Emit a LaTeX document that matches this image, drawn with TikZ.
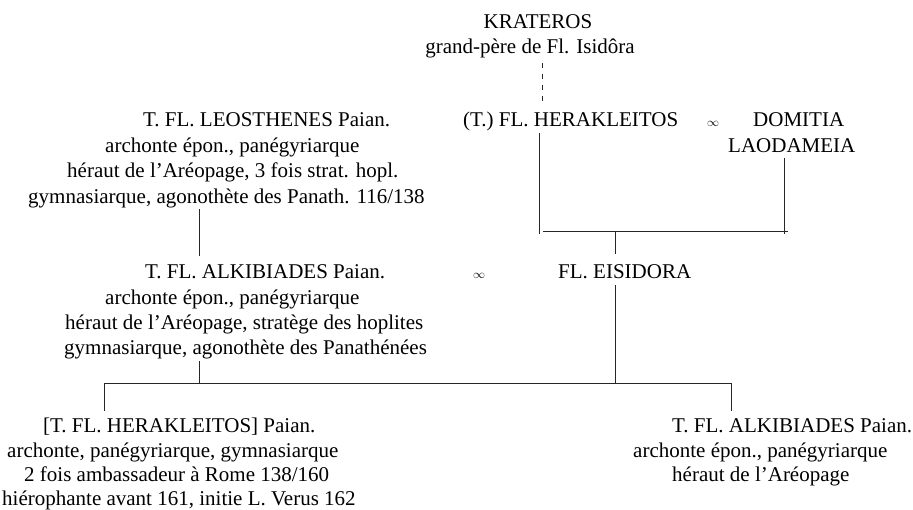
\documentclass[tikz,border=0pt]{standalone}
\usepackage{fontspec}
\setmainfont{Liberation Serif}
\begin{document}
\begin{tikzpicture}[x=1pt,y=-1pt,
  txt/.style={inner sep=0pt,anchor=base,font=\fontsize{21}{25}\selectfont},
  txtw/.style={txt,anchor=base west},
  marr/.style={inner sep=0pt,anchor=base,font=\fontsize{12}{14}\selectfont},
  conn/.style={line width=0.9pt,black!85},
  dconn/.style={conn,dash pattern=on 5pt off 6pt}]
\useasboundingbox (0,0) rectangle (913,510);
% top
\node[txt] (kra) at (538,29) {KRATEROS};
\node[txt] (kra2) at (530,54) {grand-père de Fl. Isidôra};
\coordinate (kraB) at (542,63);
\coordinate (herT) at (542,101);
\draw[dconn] (kraB) -- (herT);
% row 2
\node[txtw] (leo1) at (143,127) {T. FL. LEOSTHENES Paian.};
\node[txtw] (leo2) at (105,152.5) {archonte épon., panégyriarque};
\node[txtw] (leo3) at (67,178) {héraut de l'Aréopage, 3 fois strat. hopl.};
\node[txtw] (leo4) at (28,203.5) {gymnasiarque, agonothète des Panath. 116/138};
\node[txtw] (her) at (463,127) {(T.) FL. HERAKLEITOS};
\node[marr] (m1) at (713,127) {$\infty$};
\node[txtw] (dom1) at (753,127) {DOMITIA};
\node[txtw] (dom2) at (728,152.5) {LAODAMEIA};
% HERAKLEITOS + DOMITIA -> EISIDORA
\coordinate (herA) at (539,133);
\coordinate (herB) at (539,234);
\coordinate (domA) at (784,158);
\coordinate (domB) at (784,234);
\coordinate (barL) at (543,231);
\coordinate (barR) at (788,231);
\coordinate (barM) at (615,231);
\coordinate (eisT) at (615,254);
\draw[conn] (herA) -- (herB);
\draw[conn] (domA) -- (domB);
\draw[conn] (barL) -- (barR);
\draw[conn] (barM) -- (eisT);
% LEOSTHENES -> ALKIBIADES
\coordinate (leoB) at (199,209);
\coordinate (alkT) at (199,256);
\draw[conn] (leoB) -- (alkT);
% row 3
\node[txtw] (alk1) at (145,279) {T. FL. ALKIBIADES Paian.};
\node[txtw] (alk2) at (105,304.5) {archonte épon., panégyriarque};
\node[txtw] (alk3) at (65,330) {héraut de l'Aréopage, stratège des hoplites};
\node[txtw] (alk4) at (64,355) {gymnasiarque, agonothète des Panathénées};
\node[marr] (m2) at (479,279) {$\infty$};
\node[txtw] (eis) at (558,279) {FL. EISIDORA};
% children
\coordinate (alkB) at (199,361);
\coordinate (alkC) at (199,383);
\coordinate (eisB) at (615,285);
\coordinate (eisC) at (615,383);
\coordinate (chL) at (104,383);
\coordinate (chR) at (731,383);
\coordinate (chLb) at (104,411);
\coordinate (chRb) at (731,411);
\draw[conn] (alkB) -- (alkC);
\draw[conn] (eisB) -- (eisC);
\draw[conn] (chL) -- (chR);
\draw[conn] (chL) -- (chLb);
\draw[conn] (chR) -- (chRb);
% bottom left
\node[txtw] (hk1) at (43,432) {[T. FL. HERAKLEITOS] Paian.};
\node[txtw] (hk2) at (7,457) {archonte, panégyriarque, gymnasiarque};
\node[txtw] (hk3) at (24,481.5) {2 fois ambassadeur à Rome 138/160};
\node[txtw] (hk4) at (2,505) {hiérophante avant 161, initie L. Verus 162};
% bottom right
\node[txtw] (ak1) at (672,432) {T. FL. ALKIBIADES Paian.};
\node[txtw] (ak2) at (633,457) {archonte épon., panégyriarque};
\node[txtw] (ak3) at (672,481.5) {héraut de l'Aréopage};
\end{tikzpicture}
\end{document}
